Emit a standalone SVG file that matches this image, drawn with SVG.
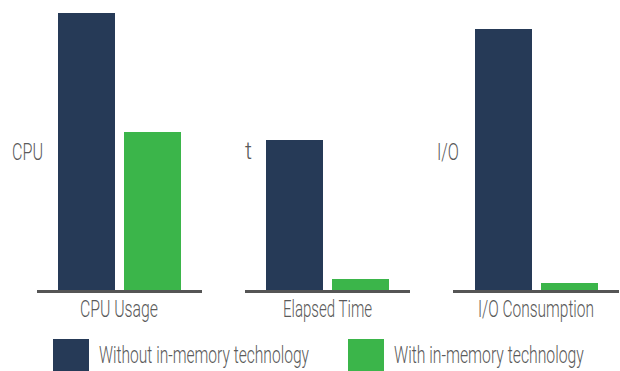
<svg xmlns="http://www.w3.org/2000/svg" width="620" height="371" viewBox="0 0 620 371">
  <style>
    .lbl { font-family: Roboto, "DejaVu Sans Condensed", sans-serif; font-weight: 300; font-size: 23px; fill: #5a5a5a; }
    .without { fill: #263a57; }
    .with { fill: #3bb54a; }
    .axis { stroke: #555555; stroke-width: 3; fill: none; }
  </style>
  <rect width="620" height="371" fill="#ffffff"/>

  <!-- CPU usage chart -->
  <g id="chart-cpu">
    <rect class="without" x="58" y="13" width="57" height="278"/>
    <rect class="with" x="124" y="132" width="57" height="159"/>
    <text class="lbl" transform="translate(12,160) scale(0.65,1)" textLength="47.7" lengthAdjust="spacingAndGlyphs">CPU</text>
    <text class="lbl" transform="translate(80,317) scale(0.65,1)" textLength="120" lengthAdjust="spacingAndGlyphs">CPU Usage</text>
  </g>

  <!-- Elapsed time chart -->
  <g id="chart-time">
    <rect class="without" x="266" y="140" width="57" height="151"/>
    <rect class="with" x="332" y="279" width="57" height="12"/>
    <text class="lbl" transform="translate(245,159) scale(0.65,1)" textLength="10.8" lengthAdjust="spacingAndGlyphs">t</text>
    <text class="lbl" transform="translate(283,317) scale(0.65,1)" textLength="137" lengthAdjust="spacingAndGlyphs">Elapsed Time</text>
  </g>

  <!-- I/O consumption chart -->
  <g id="chart-io">
    <rect class="without" x="475" y="29" width="57" height="262"/>
    <rect class="with" x="541" y="283" width="57" height="8"/>
    <text class="lbl" transform="translate(437,160) scale(0.65,1)" textLength="33.8" lengthAdjust="spacingAndGlyphs">I/O</text>
    <text class="lbl" transform="translate(478,317) scale(0.65,1)" textLength="178.5" lengthAdjust="spacingAndGlyphs">I/O Consumption</text>
  </g>

  <!-- baselines -->
  <g id="axes">
    <line class="axis" x1="37" y1="291.5" x2="202" y2="291.5"/>
    <line class="axis" x1="245" y1="291.5" x2="410" y2="291.5"/>
    <line class="axis" x1="453" y1="291.5" x2="619" y2="291.5"/>
  </g>

  <!-- legend -->
  <g id="legend">
    <rect class="without" x="53" y="339" width="36" height="32"/>
    <text class="lbl" transform="translate(99,363) scale(0.65,1)" textLength="323" lengthAdjust="spacingAndGlyphs">Without in-memory technology</text>
    <rect class="with" x="348" y="339" width="36" height="32"/>
    <text class="lbl" transform="translate(394,363) scale(0.65,1)" textLength="292" lengthAdjust="spacingAndGlyphs">With in-memory technology</text>
  </g>
</svg>
